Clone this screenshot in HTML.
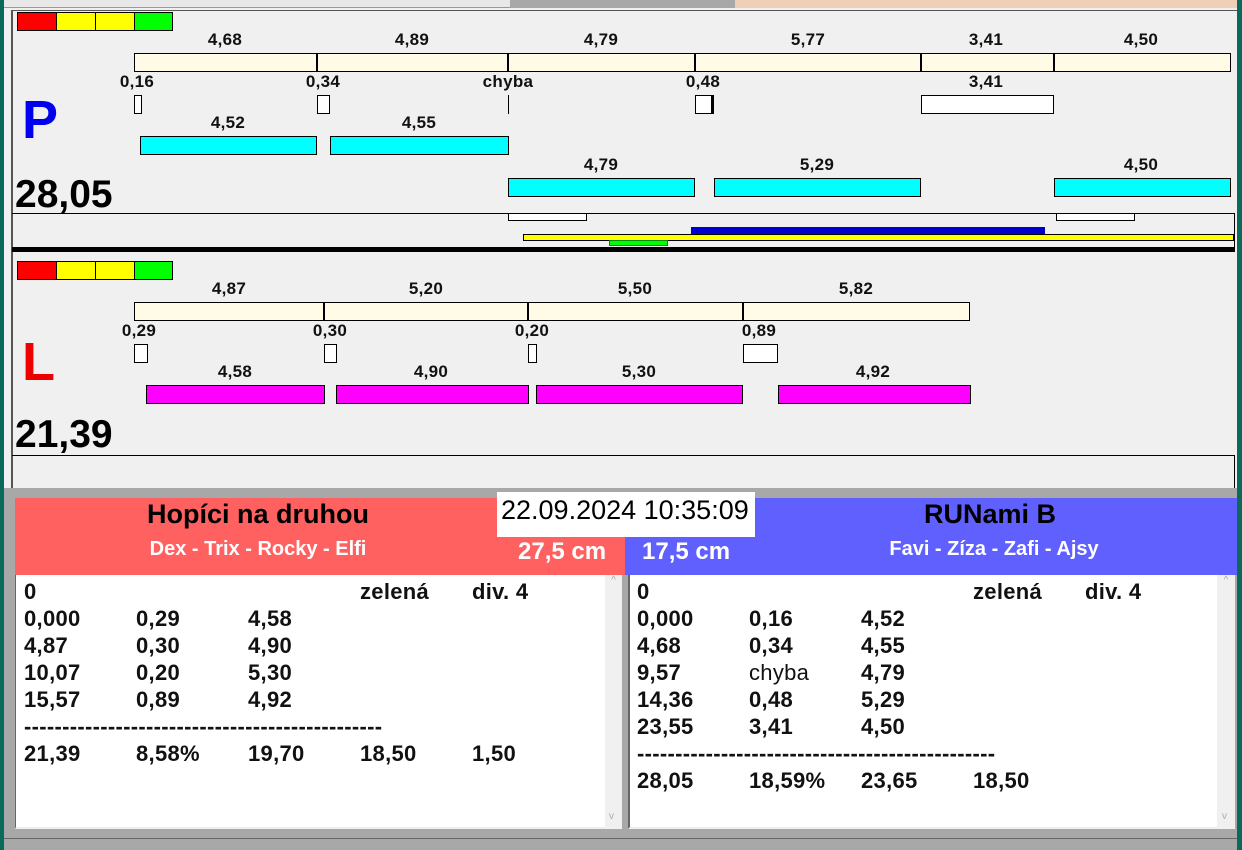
<!DOCTYPE html>
<html><head><meta charset="utf-8"><style>
*{margin:0;padding:0;box-sizing:border-box}
body{width:1242px;height:850px;background:#a8a8a8;position:relative;overflow:hidden;font-family:"Liberation Sans",sans-serif}
div{position:absolute}
.b{border:1px solid #000}
.t{font-weight:bold;font-size:17px;letter-spacing:0.3px;color:#111;transform:translateX(-50%);white-space:nowrap;line-height:16px}
.bg{background:#fffbe6}
.w{background:#fff}
.c{background:#00ffff}
.m{background:#ff00ff}
.r{background:#f00}.y{background:#ff0}.g{background:#0f0}
.row{font-weight:bold;font-size:22px;letter-spacing:0.3px;line-height:27px;color:#111;white-space:nowrap}
</style></head><body>
<div style="left:0;top:0;width:4px;height:850px;background:#0a6a5a"></div>
<div style="left:1237px;top:0;width:5px;height:850px;background:#0a6a5a"></div>
<div style="left:4px;top:0;width:731px;height:8px;background:#e8e8e8;border-bottom:1px solid #999"></div>
<div style="left:510px;top:0;width:225px;height:8px;background:#a8a8a8"></div>
<div style="left:735px;top:0;width:502px;height:12px;background:#eed0b8"></div>
<div style="left:4px;top:8px;width:1233px;height:480px;background:#f0f0f0"></div>
<div style="left:11px;top:10px;width:1226px;height:478px;border-left:2px solid #555;border-top:1px solid #555"></div>

<!-- P section -->
<div class="b r" style="left:17px;top:12px;width:40px;height:19px"></div>
<div class="b y" style="left:56px;top:12px;width:40px;height:19px"></div>
<div class="b y" style="left:95px;top:12px;width:40px;height:19px"></div>
<div class="b g" style="left:134px;top:12px;width:39px;height:19px"></div>

<div class="b bg" style="left:134px;top:53px;width:1097px;height:19px"></div>
<div style="left:316px;top:53px;width:2px;height:19px;background:#000"></div>
<div style="left:507px;top:53px;width:2px;height:19px;background:#000"></div>
<div style="left:694px;top:53px;width:2px;height:19px;background:#000"></div>
<div style="left:920px;top:53px;width:2px;height:19px;background:#000"></div>
<div style="left:1053px;top:53px;width:2px;height:19px;background:#000"></div>
<div class="t" style="left:225px;top:32px">4,68</div>
<div class="t" style="left:412px;top:32px">4,89</div>
<div class="t" style="left:601px;top:32px">4,79</div>
<div class="t" style="left:808px;top:32px">5,77</div>
<div class="t" style="left:986px;top:32px">3,41</div>
<div class="t" style="left:1141px;top:32px">4,50</div>

<div class="t" style="left:137px;top:74px">0,16</div>
<div class="t" style="left:323px;top:74px">0,34</div>
<div class="t" style="left:508px;top:74px">chyba</div>
<div class="t" style="left:703px;top:74px">0,48</div>
<div class="t" style="left:986px;top:74px">3,41</div>
<div class="b w" style="left:134px;top:95px;width:8px;height:19px"></div>
<div class="b w" style="left:317px;top:95px;width:13px;height:19px"></div>
<div style="left:508px;top:95px;width:1px;height:19px;background:#000"></div>
<div class="b w" style="left:695px;top:95px;width:19px;height:19px;border-right:3px solid #000"></div>
<div class="b w" style="left:921px;top:95px;width:133px;height:19px"></div>

<div class="t" style="left:228px;top:115px">4,52</div>
<div class="t" style="left:419px;top:115px">4,55</div>
<div class="b c" style="left:140px;top:136px;width:177px;height:19px"></div>
<div class="b c" style="left:330px;top:136px;width:179px;height:19px"></div>

<div class="t" style="left:601px;top:157px">4,79</div>
<div class="t" style="left:817px;top:157px">5,29</div>
<div class="t" style="left:1141px;top:157px">4,50</div>
<div class="b c" style="left:508px;top:178px;width:187px;height:19px"></div>
<div class="b c" style="left:714px;top:178px;width:207px;height:19px"></div>
<div class="b c" style="left:1054px;top:178px;width:177px;height:19px"></div>

<div style="left:22px;top:90px;font-weight:bold;font-size:54px;color:#0000ee;line-height:60px">P</div>
<div style="left:15px;top:174px;font-weight:bold;font-size:39px;color:#000;line-height:42px">28,05</div>

<div style="left:12px;top:213px;width:1223px;height:1px;background:#000"></div>
<div style="left:1234px;top:213px;width:1px;height:34px;background:#000"></div>
<div class="b w" style="left:508px;top:213px;width:79px;height:8px"></div>
<div class="b w" style="left:1056px;top:213px;width:79px;height:8px"></div>
<div style="left:691px;top:227px;width:354px;height:8px;background:#0000cc"></div>
<div class="b y" style="left:523px;top:234px;width:711px;height:7px"></div>
<div class="g" style="left:609px;top:240px;width:59px;height:6px;border:1px solid #080"></div>
<div style="left:12px;top:247px;width:1223px;height:5px;background:#000"></div>

<!-- L section -->
<div class="b r" style="left:17px;top:261px;width:40px;height:19px"></div>
<div class="b y" style="left:56px;top:261px;width:40px;height:19px"></div>
<div class="b y" style="left:95px;top:261px;width:40px;height:19px"></div>
<div class="b g" style="left:134px;top:261px;width:39px;height:19px"></div>

<div class="b bg" style="left:134px;top:302px;width:836px;height:19px"></div>
<div style="left:323px;top:302px;width:2px;height:19px;background:#000"></div>
<div style="left:527px;top:302px;width:2px;height:19px;background:#000"></div>
<div style="left:742px;top:302px;width:2px;height:19px;background:#000"></div>
<div class="t" style="left:229px;top:281px">4,87</div>
<div class="t" style="left:426px;top:281px">5,20</div>
<div class="t" style="left:635px;top:281px">5,50</div>
<div class="t" style="left:856px;top:281px">5,82</div>

<div class="t" style="left:139px;top:323px">0,29</div>
<div class="t" style="left:330px;top:323px">0,30</div>
<div class="t" style="left:532px;top:323px">0,20</div>
<div class="t" style="left:759px;top:323px">0,89</div>
<div class="b w" style="left:134px;top:344px;width:14px;height:19px"></div>
<div class="b w" style="left:324px;top:344px;width:13px;height:19px"></div>
<div class="b w" style="left:528px;top:344px;width:9px;height:19px"></div>
<div class="b w" style="left:743px;top:344px;width:35px;height:19px"></div>

<div class="t" style="left:235px;top:364px">4,58</div>
<div class="t" style="left:431px;top:364px">4,90</div>
<div class="t" style="left:639px;top:364px">5,30</div>
<div class="t" style="left:873px;top:364px">4,92</div>
<div class="b m" style="left:146px;top:385px;width:179px;height:19px"></div>
<div class="b m" style="left:336px;top:385px;width:193px;height:19px"></div>
<div class="b m" style="left:536px;top:385px;width:207px;height:19px"></div>
<div class="b m" style="left:778px;top:385px;width:193px;height:19px"></div>

<div style="left:22px;top:332px;font-weight:bold;font-size:54px;color:#ee0000;line-height:60px">L</div>
<div style="left:15px;top:414px;font-weight:bold;font-size:39px;color:#000;line-height:42px">21,39</div>
<div style="left:12px;top:455px;width:1223px;height:1px;background:#000"></div>
<div style="left:1234px;top:455px;width:1px;height:33px;background:#000"></div>

<!-- bottom headers -->
<div style="left:15px;top:498px;width:610px;height:77px;background:#ff6060"></div>
<div style="left:625px;top:498px;width:612px;height:77px;background:#6060ff"></div>
<div style="left:258px;top:497px;transform:translateX(-50%);font-weight:bold;font-size:27px;line-height:34px;white-space:nowrap">Hopíci na druhou</div>
<div style="left:258px;top:537px;transform:translateX(-50%);font-weight:bold;font-size:20px;color:#fff;line-height:24px;white-space:nowrap">Dex - Trix - Rocky - Elfi</div>
<div style="left:518px;top:538px;font-weight:bold;font-size:24px;color:#fff;line-height:28px">27,5 cm</div>
<div style="left:990px;top:497px;transform:translateX(-50%);font-weight:bold;font-size:27px;line-height:34px;white-space:nowrap">RUNami B</div>
<div style="left:994px;top:537px;transform:translateX(-50%);font-weight:bold;font-size:20px;color:#fff;line-height:24px;white-space:nowrap">Favi - Zíza - Zafi - Ajsy</div>
<div style="left:642px;top:538px;font-weight:bold;font-size:24px;color:#fff;line-height:28px">17,5 cm</div>
<div style="left:497px;top:492px;width:258px;height:45px;background:#fff;font-size:27px;line-height:36px;padding-left:4px;white-space:nowrap">22.09.2024 10:35:09</div>

<!-- text areas -->
<div style="left:15px;top:575px;width:590px;height:254px;background:#fff;border-left:1px solid #666;border-bottom:2px solid #eee"></div>
<div style="left:605px;top:575px;width:17px;height:254px;background:#f0f0f0;color:#aaa;font-size:10px;text-align:center">^<div style="top:236px;left:4px">v</div></div>
<div style="left:628px;top:575px;width:589px;height:254px;background:#fff;border-left:2px solid #666;border-bottom:2px solid #eee"></div>
<div style="left:1217px;top:575px;width:18px;height:254px;background:#f0f0f0;color:#aaa;font-size:10px;text-align:center">^<div style="top:236px;left:5px">v</div></div>
<div style="left:4px;top:838px;width:1233px;height:1px;background:#666"></div>

<div class="row" style="left:24px;top:578px">0</div>
<div class="row" style="left:360px;top:578px">zelená</div>
<div class="row" style="left:472px;top:578px">div. 4</div>
<div class="row" style="left:24px;top:605px">0,000<br>4,87<br>10,07<br>15,57<br>-----------------------------------------------<br>21,39</div>
<div class="row" style="left:136px;top:605px">0,29<br>0,30<br>0,20<br>0,89<br><br>8,58%</div>
<div class="row" style="left:248px;top:605px">4,58<br>4,90<br>5,30<br>4,92<br><br>19,70</div>
<div class="row" style="left:360px;top:740px">18,50</div>
<div class="row" style="left:472px;top:740px">1,50</div>

<div class="row" style="left:637px;top:578px">0</div>
<div class="row" style="left:973px;top:578px">zelená</div>
<div class="row" style="left:1085px;top:578px">div. 4</div>
<div class="row" style="left:637px;top:605px">0,000<br>4,68<br>9,57<br>14,36<br>23,55<br>-----------------------------------------------<br>28,05</div>
<div class="row" style="left:749px;top:605px">0,16<br>0,34<br><span style="font-weight:normal">chyba</span><br>0,48<br>3,41<br><br>18,59%</div>
<div class="row" style="left:861px;top:605px">4,52<br>4,55<br>4,79<br>5,29<br>4,50<br><br>23,65</div>
<div class="row" style="left:973px;top:767px">18,50</div>
</body></html>
